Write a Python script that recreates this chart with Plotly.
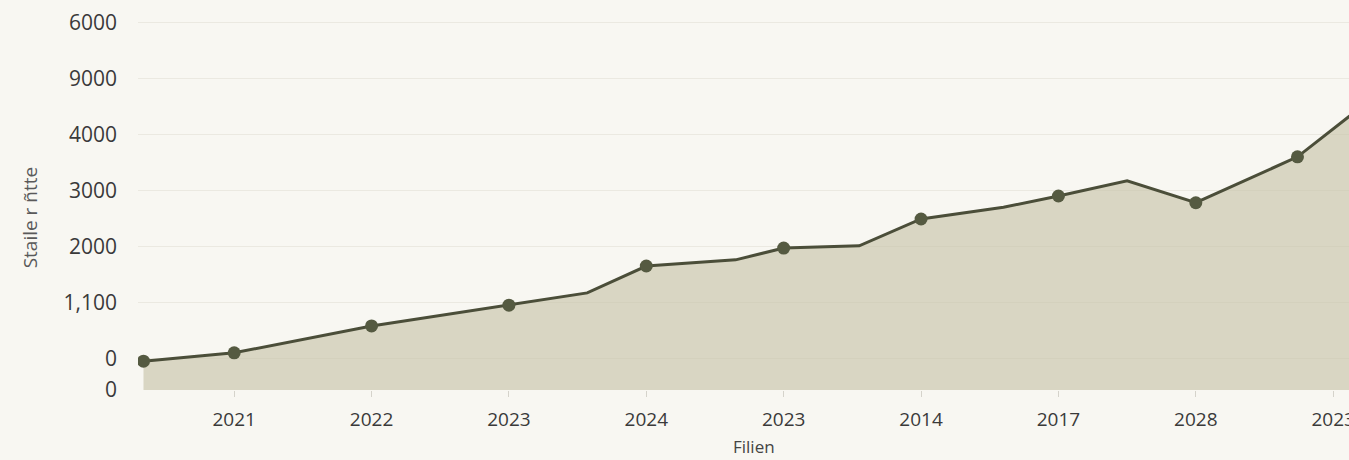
import plotly.graph_objects as go

# x positions (in tick-index units) and values
x_pos = [-0.66, 0, 1, 2, 2.57, 3, 3.65, 4, 4.55, 5, 5.6, 6, 6.5, 7, 7.74, 8.12]
values = [-40, 110, 590, 960, 1180, 1660, 1770, 1980, 2020, 2500, 2710, 2910, 3180, 2790, 3610, 4340]
has_marker = [True, True, True, True, False, True, False, True, False, True, False, True, False, True, True, False]

x_tick_vals = [0, 1, 2, 3, 4, 5, 6, 7, 8]
x_tick_text = ["2021", "2022", "2023", "2024", "2023", "2014", "2017", "2028", "2023"]
y_tick_vals = [-554, 0, 1000, 2000, 3000, 4000, 5000, 6000]
y_tick_text = ["0", "0", "1,100", "2000", "3000", "4000", "9000", "6000"]
y_floor = -554

x_title = "Filien"
y_title = "Staile r ñtte"

BG = "#f8f7f2"
LINE = "#4b4e39"
MARK = "#555a41"

fig = go.Figure()
# baseline for the area fill (axis bottom)
fig.add_trace(go.Scatter(
    x=[x_pos[0], x_pos[-1]], y=[y_floor, y_floor], mode="lines",
    line=dict(width=0), showlegend=False, hoverinfo="skip",
))
fig.add_trace(go.Scatter(
    x=x_pos, y=values, mode="lines",
    line=dict(color=LINE, width=3),
    fill="tonexty", fillcolor="rgba(198,194,166,0.62)",
    showlegend=False,
))
fig.add_trace(go.Scatter(
    x=[x for x, m in zip(x_pos, has_marker) if m],
    y=[v for v, m in zip(values, has_marker) if m],
    mode="markers",
    marker=dict(size=13, color=MARK),
    showlegend=False,
))

fig.update_layout(
    width=1349, height=460,
    margin=dict(l=138, r=0, t=10, b=70),
    paper_bgcolor=BG, plot_bgcolor=BG,
    font=dict(family="Open Sans", size=16, color="#454545"),
    xaxis=dict(
        range=[-0.70, 8.115], tickmode="array",
        tickvals=x_tick_vals, ticktext=x_tick_text,
        showgrid=False, zeroline=False, showline=False,
        ticks="outside", ticklen=6, tickcolor="#d5d3cb", tickwidth=1,
        ticklabelstandoff=6, ticklabeloverflow="allow", automargin=False,
        tickfont=dict(size=19, color="#3a3a3a"),
    ),
    yaxis=dict(
        range=[y_floor, 6232], tickmode="array",
        tickvals=y_tick_vals, ticktext=y_tick_text,
        showgrid=True, gridcolor="#ebe9e1", gridwidth=1,
        zeroline=False, showline=False, ticks="", automargin=False,
        ticklabelstandoff=20,
        tickfont=dict(size=21, color="#3a3a3a"),
    ),
    annotations=[
        dict(text=x_title, xref="paper", yref="paper", x=(754 - 138) / 1211, y=-0.148,
             showarrow=False, font=dict(size=17, color="#444444"), yanchor="middle"),
        dict(text=y_title, xref="paper", yref="paper", x=-0.089, y=0.455,
             showarrow=False, textangle=-90, font=dict(size=19, color="#5a5a5a"),
             xanchor="center", yanchor="middle"),
    ],
)

fig.write_html("out.html")
